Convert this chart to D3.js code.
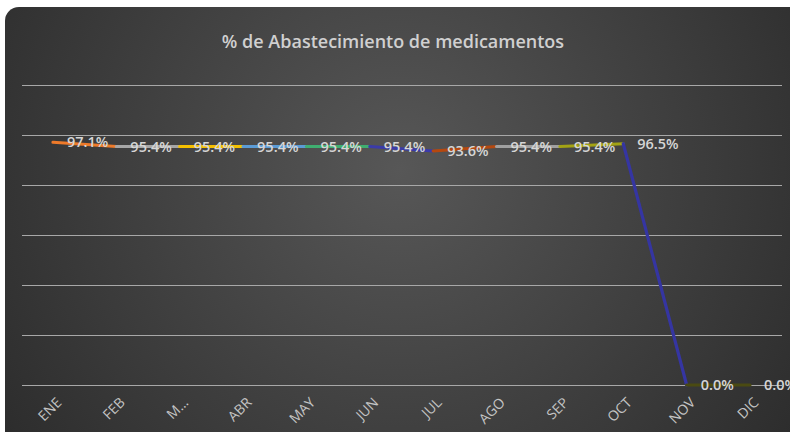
<!DOCTYPE html>
<html>
<head>
<meta charset="utf-8">
<script src="https://cdn.jsdelivr.net/npm/d3@7"></script>
<style>
  html, body { margin: 0; padding: 0; background: #fff; overflow: hidden; }
  svg { display: block; }
</style>
</head>
<body>
<svg id="chart" width="790" height="432"></svg>
<script>
// data
const months = ["ENE", "FEB", "MAR", "ABR", "MAY", "JUN", "JUL", "AGO", "SEP", "OCT", "NOV", "DIC"];
const monthLabels = ["ENE", "FEB", "M…", "ABR", "MAY", "JUN", "JUL", "AGO", "SEP", "OCT", "NOV", "DIC"];
const abastecimiento = [97.1, 95.4, 95.4, 95.4, 95.4, 95.4, 93.6, 95.4, 95.4, 96.5, 0.0, 0.0];
// colour of the segment that ends at each point (excel "vary colours by point")
const segmentColors = ["#ee7a2a", "#a6a6a6", "#f5c000", "#5b9bd5", "#3fae70", "#3b3ba8",
                       "#b5480f", "#a0a0a0", "#a3a314", "#3535a2", "#4a4a12"];

const svg = d3.select("#chart");

// background panel, radial gradient like excel's dark style
const defs = svg.append("defs");
const grad = defs.append("radialGradient")
  .attr("id", "bg")
  .attr("gradientUnits", "userSpaceOnUse")
  .attr("cx", 400).attr("cy", 170).attr("r", 540);
grad.append("stop").attr("offset", "0%").attr("stop-color", "#575757");
grad.append("stop").attr("offset", "100%").attr("stop-color", "#272727");

svg.append("rect")
  .attr("x", 5).attr("y", 7)
  .attr("width", 800).attr("height", 450)
  .attr("rx", 14)
  .attr("fill", "url(#bg)");

const x = d3.scalePoint().domain(months).range([53, 750]);
const y = d3.scaleLinear().domain([0, 120]).range([385, 85]);

// gridlines
svg.append("g")
  .selectAll("line")
  .data(y.ticks(6))
  .join("line")
  .attr("x1", 22).attr("x2", 782)
  .attr("y1", d => Math.round(y(d)) + 0.5)
  .attr("y2", d => Math.round(y(d)) + 0.5)
  .attr("stroke", "#a8a8a8")
  .attr("stroke-width", 1);

// title
svg.append("text")
  .attr("x", 393).attr("y", 48)
  .attr("text-anchor", "middle")
  .attr("font-family", "'Open Sans', sans-serif")
  .attr("font-size", 18)
  .attr("font-weight", 600)
  .attr("fill", "#d0d0d0")
  .text("% de Abastecimiento de medicamentos");

// line drawn segment by segment so each gets its own colour
const pts = months.map((m, i) => [x(m), y(abastecimiento[i])]);
const segs = d3.pairs(pts);
svg.append("g")
  .selectAll("line")
  .data(segs)
  .join("line")
  .attr("x1", d => d[0][0]).attr("y1", d => d[0][1])
  .attr("x2", d => d[1][0]).attr("y2", d => d[1][1])
  .attr("stroke", (d, i) => segmentColors[i])
  .attr("stroke-width", 3.2)
  .attr("stroke-linecap", "round");

// data labels, to the right of each point
svg.append("g")
  .selectAll("text")
  .data(abastecimiento)
  .join("text")
  .attr("x", (d, i) => x(months[i]) + 14)
  .attr("y", (d, i) => y(d))
  .attr("dy", "0.36em")
  .attr("font-family", "'Open Sans', sans-serif")
  .attr("font-size", 14.5)
  .attr("font-weight", 600)
  .attr("fill", "#d6d6d6")
  .text(d => d.toFixed(1) + "%");

// category labels, rotated
svg.append("g")
  .selectAll("text")
  .data(months)
  .join("text")
  .attr("transform", d => `translate(${x(d) + 6},${400}) rotate(-45)`)
  .attr("text-anchor", "end")
  .attr("dy", "0.35em")
  .attr("font-family", "'Open Sans', sans-serif")
  .attr("font-size", 14)
  .attr("fill", "#c4c4c4")
  .text((d, i) => monthLabels[i]);
</script>
</body>
</html>
